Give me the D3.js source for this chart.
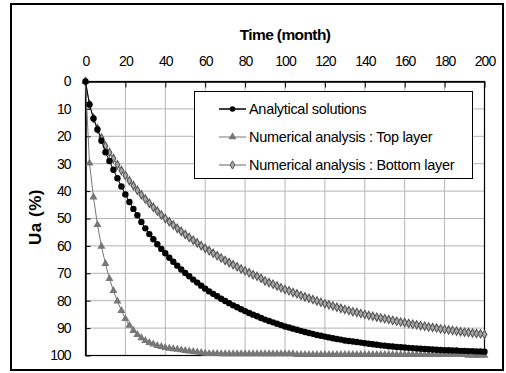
<!DOCTYPE html>
<html>
<head>
<meta charset="utf-8">
<script src="https://cdn.jsdelivr.net/npm/d3@7"></script>
<style>
  body { margin: 0; background: #fff; }
  text { font-family: "Liberation Sans", Arial, sans-serif; }
</style>
</head>
<body>
<div id="chart"></div>
<script>
// months, every 2 months from 0 to 200
const months = d3.range(0, 201, 2);
const xTicks = [0, 20, 40, 60, 80, 100, 120, 140, 160, 180, 200];
const yTicks = [0, 10, 20, 30, 40, 50, 60, 70, 80, 90, 100];
const seriesNames = ['Analytical solutions', 'Numerical analysis : Top layer', 'Numerical analysis : Bottom layer'];

const analytical = [
  0, 8.4, 13.5, 17.5, 21.6, 25.8, 29.0, 32.2, 35.3, 38.3,
  41.2, 44.0, 46.5, 48.8, 51.3, 53.6, 55.7, 57.6, 59.4, 61.1,
  62.7, 64.3, 65.8, 67.2, 68.6, 69.9, 71.1, 72.3, 73.4, 74.5,
  75.6, 76.6, 77.5, 78.4, 79.3, 80.1, 80.9, 81.7, 82.4, 83.1,
  83.8, 84.5, 85.1, 85.7, 86.3, 86.9, 87.4, 87.9, 88.4, 88.9,
  89.4, 89.8, 90.2, 90.6, 91.0, 91.4, 91.8, 92.1, 92.5, 92.8,
  93.1, 93.4, 93.7, 94.0, 94.2, 94.5, 94.7, 94.9, 95.1, 95.3,
  95.5, 95.7, 95.9, 96.1, 96.3, 96.4, 96.6, 96.7, 96.9, 97.0,
  97.1, 97.2, 97.3, 97.4, 97.5, 97.6, 97.7, 97.8, 97.9, 98.0,
  98.1, 98.1, 98.2, 98.2, 98.3, 98.3, 98.4, 98.4, 98.5, 98.5,
  98.6
];

const topLayer = [
  0, 29.8, 42.2, 52.3, 60.2, 66.5, 72.0, 76.3, 80.2, 83.6,
  86.6, 89.0, 90.9, 92.4, 93.6, 94.6, 95.3, 95.9, 96.4, 96.8,
  97.1, 97.4, 97.6, 97.8, 98.0, 98.2, 98.4, 98.6, 98.8, 99.0,
  99.2, 99.3, 99.3, 99.3, 99.4, 99.4, 99.4, 99.4, 99.4, 99.4,
  99.4, 99.4, 99.4, 99.4, 99.4, 99.4, 99.4, 99.4, 99.4, 99.4,
  99.4, 99.4, 99.4, 99.7, 99.7, 99.7, 99.7, 99.7, 99.7, 99.7,
  99.7, 99.7, 99.7, 99.7, 99.7, 99.7, 99.7, 99.7, 99.7, 99.7,
  99.7, 99.7, 99.7, 99.7, 99.7, 99.7, 99.7, 99.7, 99.7, 99.7,
  99.7, 99.7, 99.7, 99.7, 99.7, 99.7, 99.7, 99.7, 99.7, 99.7,
  99.7, 99.7, 99.7, 99.7, 99.7, 99.7, 100, 100, 100, 100,
  100
];

const bottomLayer = [
  0, 8.4, 13.4, 17.2, 20.6, 23.5, 25.9, 28.1, 30.4, 32.5,
  34.3, 36.2, 38.0, 39.7, 41.3, 42.9, 44.4, 45.9, 47.3, 48.7,
  50.0, 51.2, 52.4, 53.6, 54.7, 55.8, 56.9, 57.9, 58.9, 59.9,
  60.9, 61.8, 62.7, 63.6, 64.4, 65.3, 66.1, 66.9, 67.6, 68.4,
  69.1, 69.8, 70.5, 71.1, 71.8, 72.8, 73.4, 74.0, 74.6, 75.3,
  75.9, 76.4, 77.0, 77.5, 78.1, 78.6, 79.1, 79.6, 80.1, 80.6,
  81.1, 81.5, 81.9, 82.4, 82.8, 83.2, 83.6, 84.0, 84.3, 84.7,
  85.0, 85.4, 85.7, 86.0, 86.3, 86.6, 86.9, 87.2, 87.5, 87.8,
  88.0, 88.3, 88.6, 88.8, 89.1, 89.3, 89.6, 89.8, 90.0, 90.3,
  90.5, 90.7, 90.9, 91.1, 91.3, 91.5, 91.6, 91.8, 92.0, 92.1,
  92.3
];

const W = 506, H = 373;
const svg = d3.select('#chart').append('svg')
  .attr('width', W)
  .attr('height', H);

// outer frame
svg.append('rect')
  .attr('x', 11).attr('y', 4)
  .attr('width', 492).attr('height', 366)
  .attr('fill', '#fff')
  .attr('stroke', '#000')
  .attr('stroke-width', 2);

const x = d3.scaleLinear().domain([0, 200]).range([85.5, 484.5]);
const y = d3.scaleLinear().domain([0, 100]).range([81.5, 355.5]);

// grid
const grid = svg.append('g').attr('stroke', '#b4b4b4').attr('stroke-width', 1);
grid.selectAll('.gx').data(xTicks.slice(1, -1)).enter().append('line')
  .attr('x1', d => x(d)).attr('x2', d => x(d))
  .attr('y1', y(0)).attr('y2', y(100));
grid.selectAll('.gy').data(yTicks.slice(1, -1)).enter().append('line')
  .attr('x1', x(0)).attr('x2', x(200))
  .attr('y1', d => y(d)).attr('y2', d => y(d));

// plot area border
svg.append('rect')
  .attr('x', x(0)).attr('y', y(0))
  .attr('width', x(200) - x(0)).attr('height', y(100) - y(0))
  .attr('fill', 'none').attr('stroke', '#000').attr('stroke-width', 1.2);

// axes
const xAxis = svg.append('g')
  .attr('transform', `translate(0,${y(0)})`)
  .call(d3.axisTop(x).tickValues(xTicks).tickSizeInner(-6).tickSizeOuter(0).tickPadding(16));
const yAxis = svg.append('g')
  .attr('transform', `translate(${x(0)},0)`)
  .call(d3.axisLeft(y).tickValues(yTicks).tickSizeInner(-5).tickSizeOuter(0).tickPadding(15));

[xAxis, yAxis].forEach(a => {
  a.select('.domain').attr('stroke', '#000').attr('stroke-width', 1.5);
  a.selectAll('.tick line').attr('stroke', '#000');
  a.selectAll('.tick text')
    .attr('font-family', '"Liberation Sans", Arial, sans-serif')
    .attr('font-size', 14)
    .attr('letter-spacing', -1)
    .attr('fill', '#000');
});

// titles
svg.append('text')
  .attr('x', 285).attr('y', 40)
  .attr('text-anchor', 'middle')
  .attr('font-size', 15.5).attr('font-weight', 'bold')
  .attr('letter-spacing', -0.6)
  .text('Time (month)');

svg.append('text')
  .attr('transform', 'translate(41,217) rotate(-90)')
  .attr('text-anchor', 'middle')
  .attr('font-size', 17).attr('font-weight', 'bold')
  .attr('letter-spacing', 0.5)
  .text('Ua (%)');

const line = d3.line().x(d => x(d[0])).y(d => y(d[1]));
const pts = arr => months.map((m, i) => [m, arr[i]]);

const tri = d3.symbol().type(d3.symbolTriangle).size(28);
const dia = d3.symbol().type(d3.symbolDiamond).size(20);

// bottom layer
svg.append('path').datum(pts(bottomLayer))
  .attr('d', line).attr('fill', 'none').attr('stroke', '#666').attr('stroke-width', 1);
svg.append('g').selectAll('path').data(pts(bottomLayer)).enter().append('path')
  .attr('d', dia)
  .attr('transform', d => `translate(${x(d[0])},${y(d[1])})`)
  .attr('fill', '#a8a8a8').attr('stroke', '#555').attr('stroke-width', 1.1);

// top layer
svg.append('path').datum(pts(topLayer))
  .attr('d', line).attr('fill', 'none').attr('stroke', '#777').attr('stroke-width', 1);
svg.append('g').selectAll('path').data(pts(topLayer)).enter().append('path')
  .attr('d', tri)
  .attr('transform', d => `translate(${x(d[0])},${y(d[1])})`)
  .attr('fill', '#777');

// analytical
svg.append('path').datum(pts(analytical))
  .attr('d', line).attr('fill', 'none').attr('stroke', '#000').attr('stroke-width', 1);
svg.append('g').selectAll('circle').data(pts(analytical)).enter().append('circle')
  .attr('cx', d => x(d[0])).attr('cy', d => y(d[1]))
  .attr('r', 3.2).attr('fill', '#000');

// legend
const lg = svg.append('g');
lg.append('rect')
  .attr('x', 194.5).attr('y', 91.5).attr('width', 278).attr('height', 87)
  .attr('fill', '#fff').attr('stroke', '#000').attr('stroke-width', 1);
const lgY = [109, 137, 165];
const lgColor = ['#000', '#777', '#666'];
seriesNames.forEach((name, i) => {
  lg.append('line')
    .attr('x1', 219).attr('x2', 246).attr('y1', lgY[i]).attr('y2', lgY[i])
    .attr('stroke', lgColor[i]).attr('stroke-width', i === 0 ? 1.5 : 1);
  if (i === 0) {
    lg.append('circle').attr('cx', 232.5).attr('cy', lgY[i]).attr('r', 2.8).attr('fill', '#000');
  } else if (i === 1) {
    lg.append('path').attr('d', tri).attr('transform', `translate(232.5,${lgY[i]})`).attr('fill', '#777');
  } else {
    lg.append('path').attr('d', dia).attr('transform', `translate(232.5,${lgY[i]})`)
      .attr('fill', '#a8a8a8').attr('stroke', '#555');
  }
  lg.append('text')
    .attr('x', 249).attr('y', lgY[i] + 5)
    .attr('font-size', 14.5).attr('letter-spacing', -0.3)
    .text(name);
});
</script>
</body>
</html>
